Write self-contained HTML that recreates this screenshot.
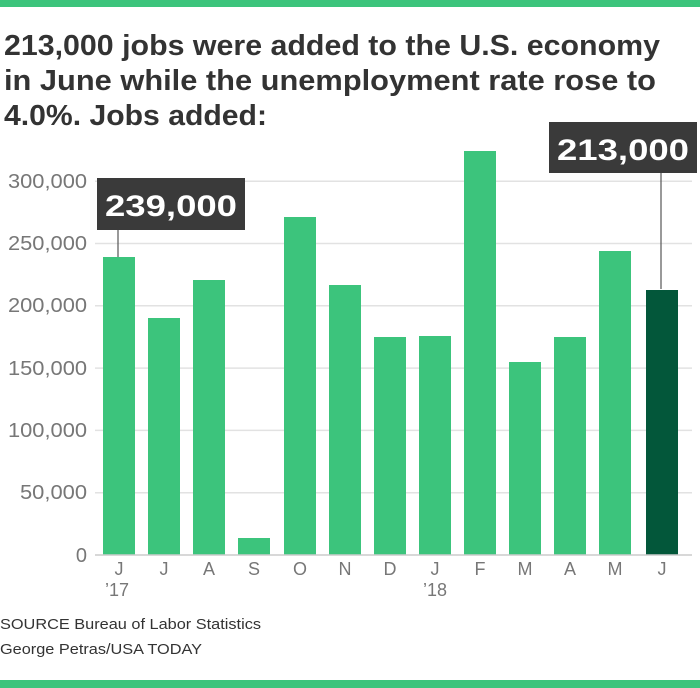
<!DOCTYPE html>
<html><head><meta charset="utf-8"><style>
html,body{margin:0;padding:0;background:#fff;}
svg{display:block;}
</style></head><body>
<svg width="700" height="688" viewBox="0 0 700 688" xmlns="http://www.w3.org/2000/svg" font-family="Liberation Sans, sans-serif">
<rect x="0" y="0" width="700" height="7" fill="#3cc47c"/>
<rect x="0" y="680" width="700" height="8" fill="#3cc47c"/>
<g font-weight="bold" font-size="29" fill="#333">
<text x="4" y="55" textLength="656" lengthAdjust="spacingAndGlyphs">213,000 jobs were added to the U.S. economy</text>
<text x="4" y="90" textLength="652" lengthAdjust="spacingAndGlyphs">in June while the unemployment rate rose to</text>
<text x="4" y="125" textLength="263" lengthAdjust="spacingAndGlyphs">4.0%. Jobs added:</text>
</g>
<g stroke="#e2e2e2" stroke-width="1.5">
<line x1="95" x2="692" y1="181.2" y2="181.2"/>
<line x1="95" x2="692" y1="243.5" y2="243.5"/>
<line x1="95" x2="692" y1="305.8" y2="305.8"/>
<line x1="95" x2="692" y1="368.1" y2="368.1"/>
<line x1="95" x2="692" y1="430.4" y2="430.4"/>
<line x1="95" x2="692" y1="492.7" y2="492.7"/>
</g>
<g font-size="20" fill="#777" text-anchor="end">
<text x="87" y="188" textLength="79" lengthAdjust="spacingAndGlyphs">300,000</text>
<text x="87" y="250" textLength="79" lengthAdjust="spacingAndGlyphs">250,000</text>
<text x="87" y="312" textLength="79" lengthAdjust="spacingAndGlyphs">200,000</text>
<text x="87" y="375" textLength="79" lengthAdjust="spacingAndGlyphs">150,000</text>
<text x="87" y="437" textLength="79" lengthAdjust="spacingAndGlyphs">100,000</text>
<text x="87" y="499" textLength="67" lengthAdjust="spacingAndGlyphs">50,000</text>
<text x="87" y="562">0</text>
</g>
<g fill="#3cc47c">
<rect x="103" y="257" width="32" height="298"/>
<rect x="148" y="318" width="32" height="237"/>
<rect x="193" y="280" width="32" height="275"/>
<rect x="238" y="538" width="32" height="17"/>
<rect x="284" y="217" width="32" height="338"/>
<rect x="329" y="285" width="32" height="270"/>
<rect x="374" y="337" width="32" height="218"/>
<rect x="419" y="336" width="32" height="219"/>
<rect x="464" y="151" width="32" height="404"/>
<rect x="509" y="362" width="32" height="193"/>
<rect x="554" y="337" width="32" height="218"/>
<rect x="599" y="251" width="32" height="304"/>
</g>
<rect x="646" y="290" width="32" height="265" fill="#03573a"/>
<line x1="95" x2="692" y1="555" y2="555" stroke="#ccc" stroke-width="1.5"/>
<g font-size="18" fill="#777" text-anchor="middle">
<text x="119" y="575">J</text><text x="164" y="575">J</text><text x="209" y="575">A</text>
<text x="254" y="575">S</text><text x="300" y="575">O</text><text x="345" y="575">N</text>
<text x="390" y="575">D</text><text x="435" y="575">J</text><text x="480" y="575">F</text>
<text x="525" y="575">M</text><text x="570" y="575">A</text><text x="615" y="575">M</text>
<text x="662" y="575">J</text>
<text x="117" y="596">’17</text><text x="435" y="596">’18</text>
</g>
<line x1="118" x2="118" y1="230" y2="257" stroke="#555" stroke-width="1.2"/>
<rect x="97" y="178" width="148" height="52" fill="#3a3a3a"/>
<text x="171" y="216" font-size="30" font-weight="bold" fill="#fff" text-anchor="middle" textLength="132" lengthAdjust="spacingAndGlyphs">239,000</text>
<line x1="661" x2="661" y1="173" y2="289" stroke="#555" stroke-width="1.2"/>
<rect x="549" y="122" width="148" height="51" fill="#3a3a3a"/>
<text x="623" y="160" font-size="30" font-weight="bold" fill="#fff" text-anchor="middle" textLength="132" lengthAdjust="spacingAndGlyphs">213,000</text>
<g font-size="15" fill="#333">
<text x="0" y="629" textLength="261" lengthAdjust="spacingAndGlyphs">SOURCE Bureau of Labor Statistics</text>
<text x="0" y="654" textLength="202" lengthAdjust="spacingAndGlyphs">George Petras/USA TODAY</text>
</g>
</svg>
</body></html>
